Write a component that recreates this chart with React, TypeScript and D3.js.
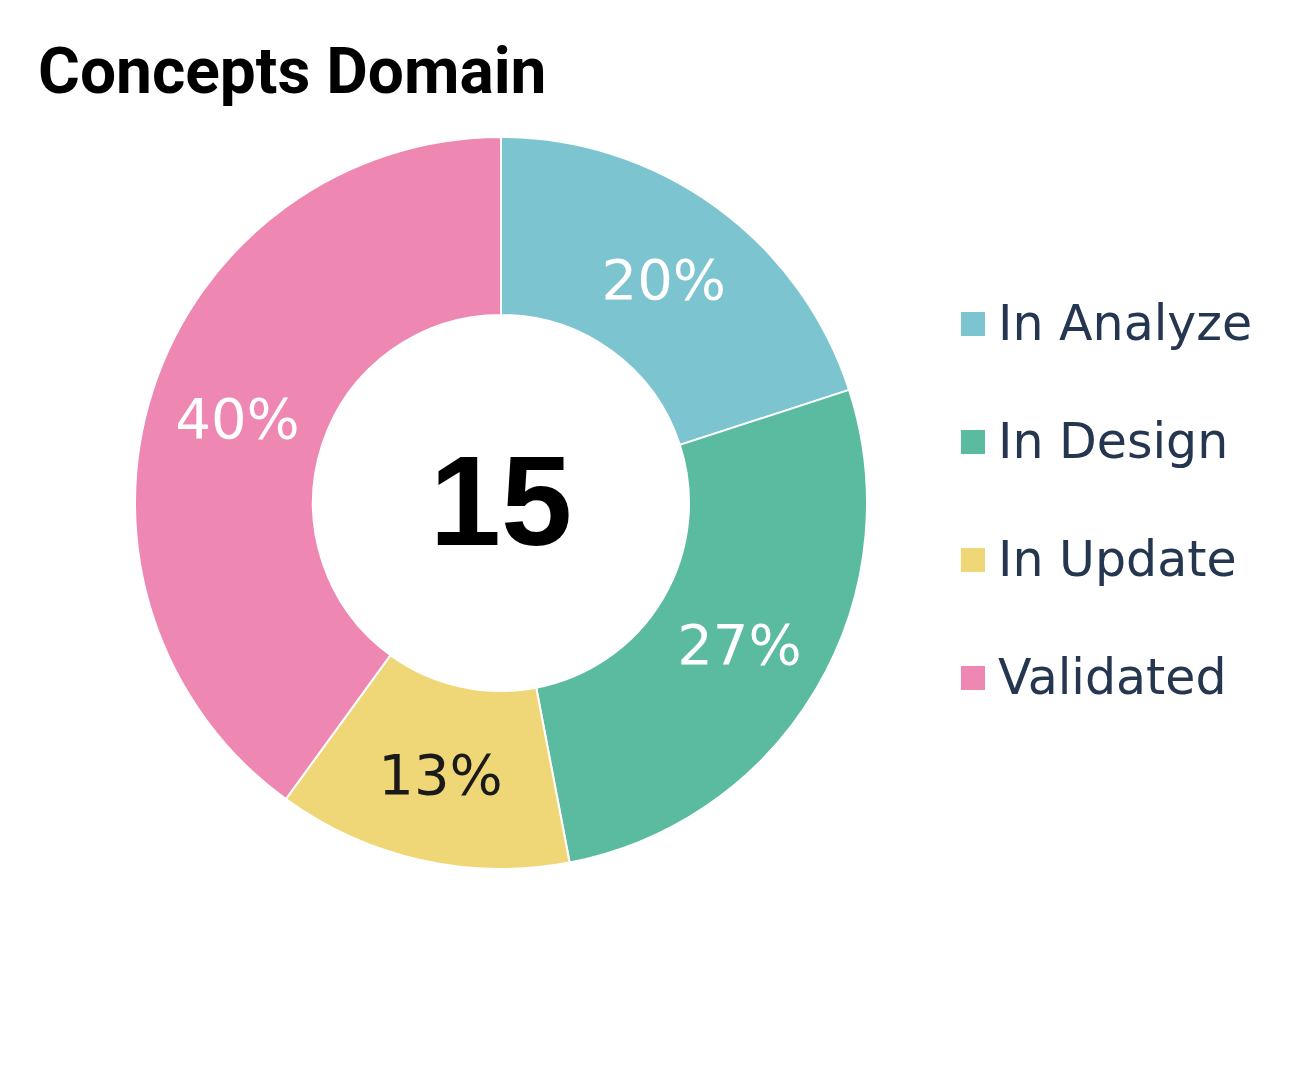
import React, { useEffect, useRef } from 'react';
import * as d3 from 'd3';

const title = 'Concepts Domain';
const categories = ['In Analyze', 'In Design', 'In Update', 'Validated'];
// slice shares as shown on the chart (rounded percentages)
const shares = [20, 27, 13, 40];
const totalCount = 15;
const colors = ['#7cc4cf', '#5bbba0', '#efd677', '#ee87b2'];
const labelColors = ['#ffffff', '#ffffff', '#1a1a1a', '#ffffff'];

const W = 1301;
const H = 1072;

const App: React.FC = () => {
  const svgRef = useRef<SVGSVGElement>(null);

  useEffect(() => {
    if (!svgRef.current) return;
    const svg = d3.select(svgRef.current);
    svg.selectAll('*').remove();

    const cx = 501;
    const cy = 503;
    const outerR = 366;
    const innerR = 188;
    const sumShares = d3.sum(shares);

    const data = categories.map((c, i) => ({ name: c, value: shares[i], i }));

    const pie = d3.pie<any>().value(d => d.value).sort(null);
    const arc = d3.arc<any>().innerRadius(innerR).outerRadius(outerR);
    const arcs = pie(data);

    // title
    svg.append('text')
      .attr('x', 38)
      .attr('y', 93)
      .attr('font-family', 'Roboto')
      .attr('font-weight', 'bold')
      .attr('font-size', 64)
      .attr('fill', '#000')
      .text(title);

    const g = svg.append('g').attr('transform', `translate(${cx},${cy})`);

    g.selectAll('path')
      .data(arcs)
      .join('path')
      .attr('d', arc as any)
      .attr('fill', d => colors[d.data.i])
      .attr('stroke', '#fff')
      .attr('stroke-width', 2);

    g.selectAll('text.pct')
      .data(arcs)
      .join('text')
      .attr('class', 'pct')
      .attr('transform', d => `translate(${arc.centroid(d)})`)
      .attr('dy', '0.36em')
      .attr('text-anchor', 'middle')
      .attr('font-family', 'DejaVu Sans')
      .attr('font-size', 56)
      .attr('fill', d => labelColors[d.data.i])
      .text(d => `${Math.round((d.data.value / sumShares) * 100)}%`);

    // center total
    g.append('text')
      .attr('y', 42)
      .attr('text-anchor', 'middle')
      .attr('font-family', 'Liberation Sans, Arial')
      .attr('font-weight', 'bold')
      .attr('font-size', 128)
      .attr('fill', '#000')
      .text(totalCount);

    // legend
    const legend = svg.append('g').attr('transform', 'translate(961,0)');
    const rowY = d3.scalePoint<string>().domain(categories).range([324, 678]);
    const rows = legend.selectAll('g')
      .data(categories)
      .join('g')
      .attr('transform', d => `translate(0,${rowY(d)})`);
    rows.append('rect')
      .attr('x', 0)
      .attr('y', -12)
      .attr('width', 24)
      .attr('height', 24)
      .attr('fill', (_, i) => colors[i]);
    rows.append('text')
      .attr('x', 37)
      .attr('y', 16)
      .attr('font-family', 'DejaVu Sans')
      .attr('font-size', 49)
      .attr('fill', '#253650')
      .text(d => d);
  }, []);

  return (
    <svg
      ref={svgRef}
      width={W}
      height={H}
      style={{ position: 'absolute', left: 0, top: 0, background: '#fff' }}
    />
  );
};

export default App;
